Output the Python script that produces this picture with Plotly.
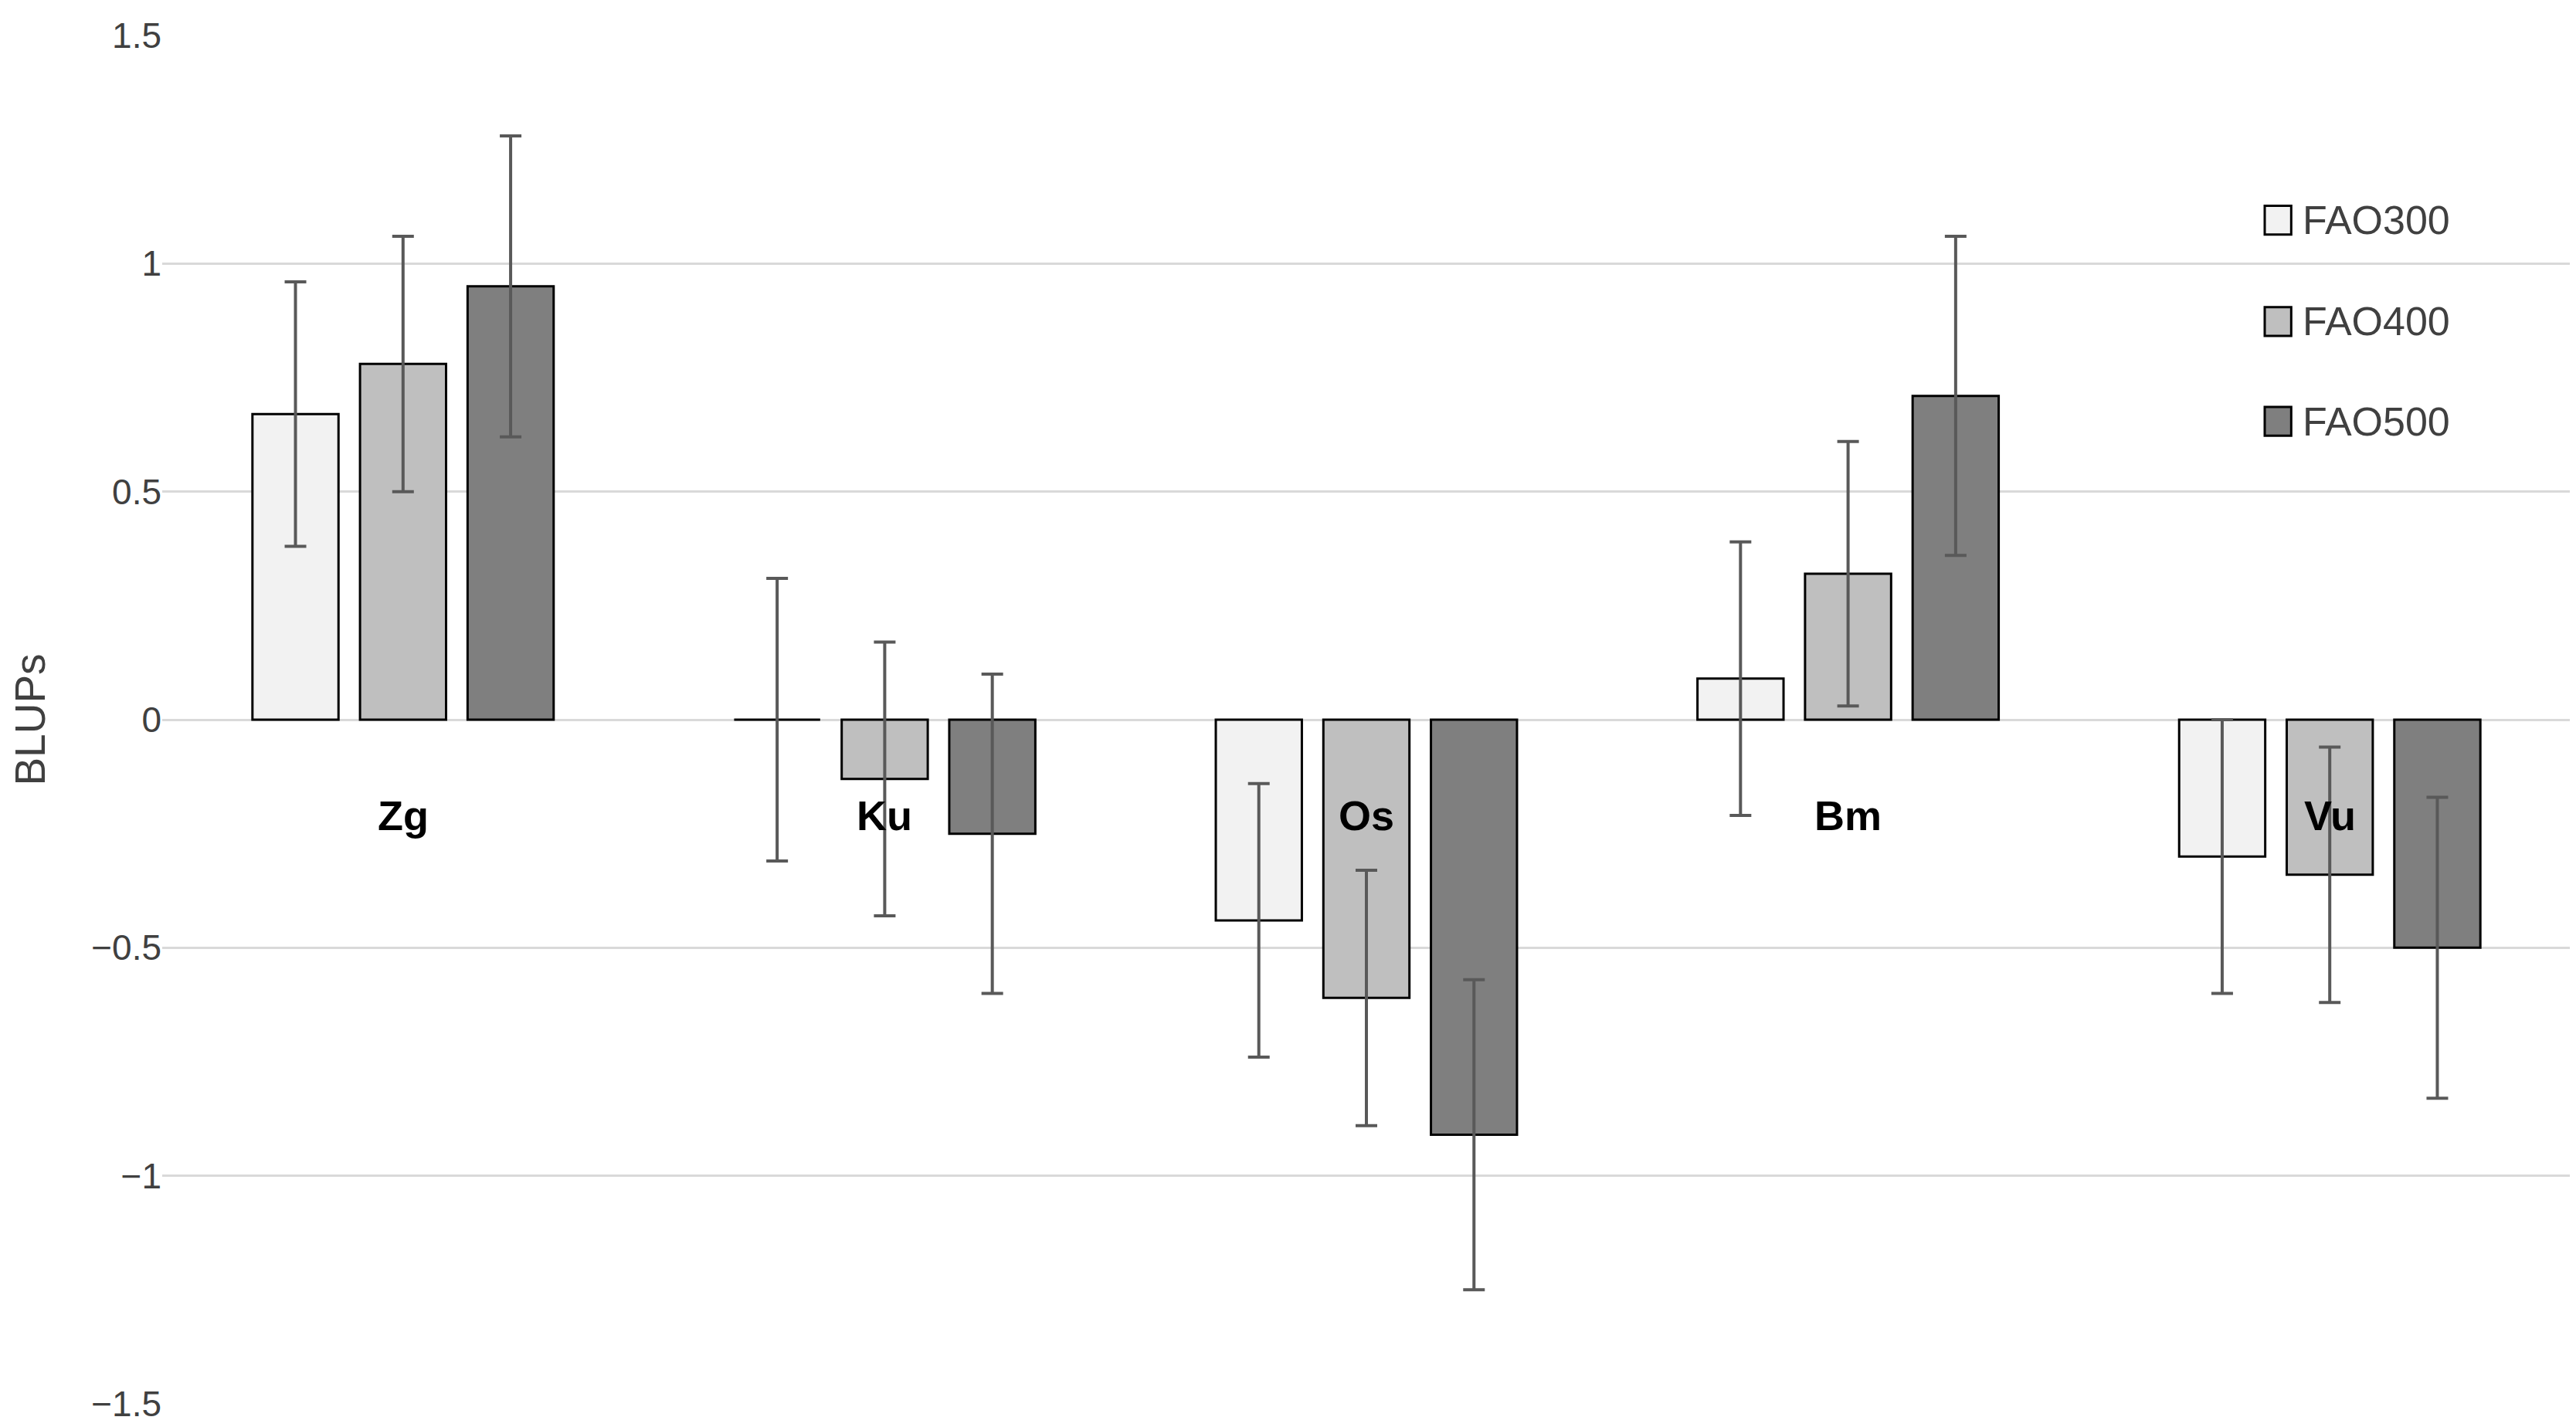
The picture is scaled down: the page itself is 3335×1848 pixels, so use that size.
import plotly.graph_objects as go

cats = ['Zg', 'Ku', 'Os', 'Bm', 'Vu']
fao300 = [0.67, 0.0, -0.44, 0.09, -0.30]
fao400 = [0.78, -0.13, -0.61, 0.32, -0.34]
fao500 = [0.95, -0.25, -0.91, 0.71, -0.50]
err300 = [0.29, 0.31, 0.30, 0.30, 0.30]
err400 = [0.28, 0.30, 0.28, 0.29, 0.28]
err500 = [0.33, 0.35, 0.34, 0.35, 0.33]

series = [('FAO300', fao300, err300, '#f2f2f2'),
          ('FAO400', fao400, err400, '#bfbfbf'),
          ('FAO500', fao500, err500, '#7f7f7f')]

fig = go.Figure()
for name, vals, errs, col in series:
    fig.add_trace(go.Bar(x=cats, y=vals, name=name, showlegend=False,
                         marker=dict(color=col, line=dict(color='black', width=3)),
                         error_y=dict(type='data', array=errs, color='#595959',
                                      thickness=4, width=14)))

for c in cats:
    fig.add_annotation(x=c, y=-0.21, text='<b>' + c + '</b>', showarrow=False,
                       font=dict(size=54, color='black'))

# legend drawn by hand so the swatches can be large
leg_y = [0.865, 0.791, 0.718]
for (name, vals, errs, col), yc in zip(series, leg_y):
    fig.add_shape(type='rect', xref='paper', yref='paper',
                  x0=0.873, x1=0.884, y0=yc - 0.0105, y1=yc + 0.0105,
                  fillcolor=col, line=dict(color='black', width=3))
    fig.add_annotation(xref='paper', yref='paper', x=0.888, y=yc, text=name,
                       showarrow=False, xanchor='left', yanchor='middle',
                       font=dict(size=52, color='#404040'))

fig.update_layout(
    barmode='group', bargap=0.33, bargroupgap=0.2,
    width=3335, height=1848,
    margin=dict(l=200, r=15, t=38, b=34),
    plot_bgcolor='white', paper_bgcolor='white',
    font=dict(family='Liberation Sans, Arial', size=46, color='#404040'),
    xaxis=dict(showticklabels=False, showgrid=False, zeroline=False),
    yaxis=dict(range=[-1.5, 1.5], dtick=0.5, showgrid=True, gridcolor='#d9d9d9',
               gridwidth=3, zeroline=True, zerolinecolor='#d9d9d9', zerolinewidth=3,
               title=dict(text='BLUPs', standoff=60), ticks=''),
    showlegend=False,
)

fig.write_html("out.html")
